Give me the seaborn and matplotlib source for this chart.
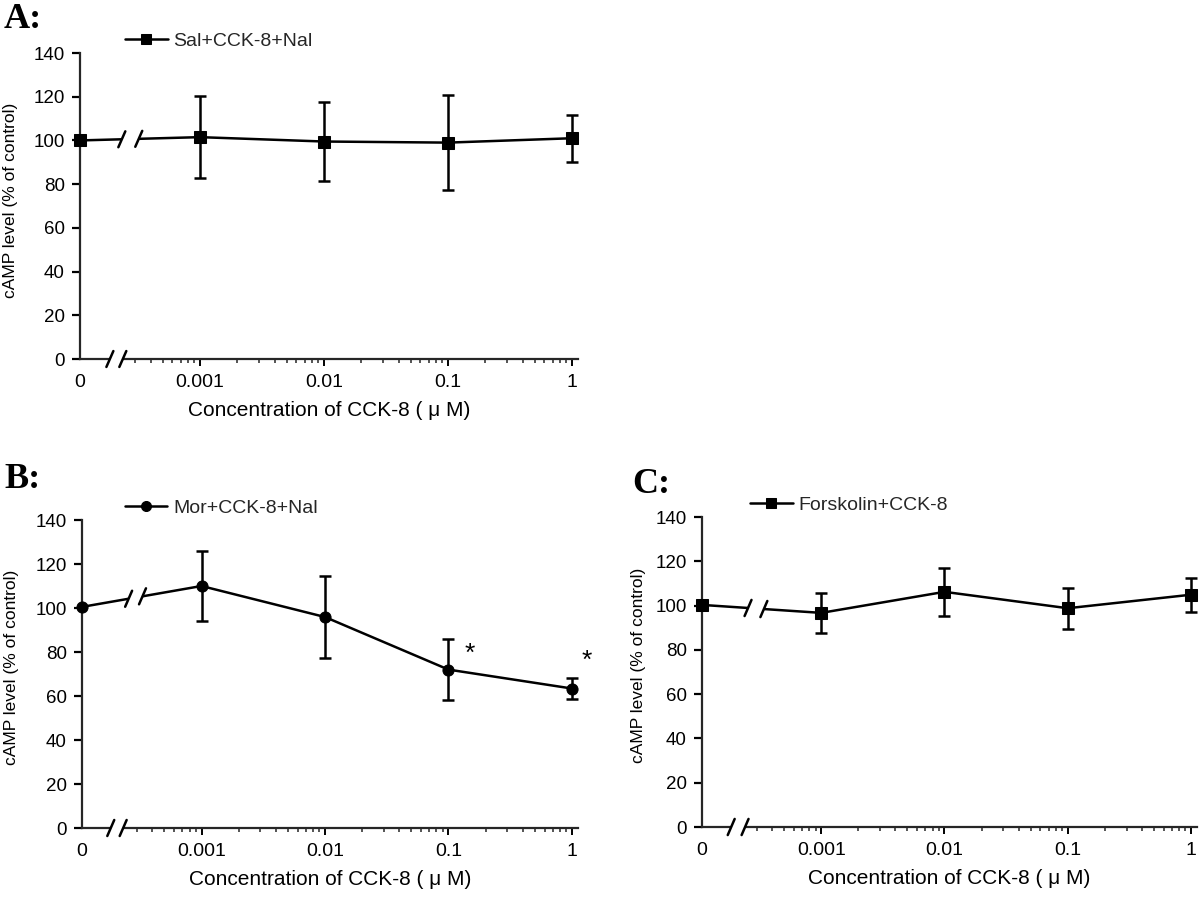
import numpy as np
import pandas as pd
import matplotlib
matplotlib.use("Agg")
import matplotlib.pyplot as plt
import seaborn as sns
from matplotlib.ticker import FixedLocator, FixedFormatter, NullFormatter
from matplotlib.patches import Rectangle

# ---------------- data ----------------
conc = [0, 0.001, 0.01, 0.1, 1]
conc_labels = ["0", "0.001", "0.01", "0.1", "1"]

a_mean = [100.0, 101.5, 99.5, 99.0, 101.0]
a_err = [0.0, 18.8, 18.2, 21.7, 10.8]
b_mean = [100.5, 110.0, 95.9, 72.0, 63.4]
b_err = [0.0, 16.0, 18.7, 14.0, 4.8]
c_mean = [100.3, 96.7, 106.2, 98.8, 104.9]
c_err = [0.0, 9.1, 10.8, 9.2, 7.7]

a_label = "Sal+CCK-8+Nal"
b_label = "Mor+CCK-8+Nal"
c_label = "Forskolin+CCK-8"

b_star_x = [0.15, 1.32]
b_star_y = [79, 76]

y_ticks = [0, 20, 40, 60, 80, 100, 120, 140]
minor_x = [k * 10.0 ** d for d in (-4, -3, -2, -1) for k in range(2, 10) if k * 10.0 ** d >= 0.0003]

x_title = "Concentration of CCK-8 ( \u03bc M)"
y_title = "cAMP level (% of control)"

# ---------------- style ----------------
sns.set_style("ticks")
plt.rcParams["font.family"] = ["Liberation Sans", "DejaVu Sans"]
plt.rcParams["axes.linewidth"] = 1.6

X0 = -3.968  # position of the "0" dose on the broken log axis


def fwd(x):
    x = np.asarray(x, dtype=float)
    safe = np.where(x > 0, x, 1.0)
    return np.where(x > 0, np.log10(safe), X0)


def inv(y):
    y = np.asarray(y, dtype=float)
    return np.where(y > X0 + 1e-9, 10.0 ** y, 0.0)


fig = plt.figure(figsize=(12, 8.97), dpi=100)

panels = [
    dict(rect=[80 / 1200, 1 - 359 / 897, 498 / 1200, 306 / 897], mean=a_mean, err=a_err,
         label=a_label, marker="s", leg_x=0.09, axbrk=(0.060, 0.086), databrk=(0.084, 0.118),
         ylab_x=-0.124),
    dict(rect=[82 / 1200, 1 - 828 / 897, 496 / 1200, 308 / 897], mean=b_mean, err=b_err,
         label=b_label, marker="o", leg_x=0.086, axbrk=(0.058, 0.083), databrk=(0.094, 0.122),
         ylab_x=-0.128),
    dict(rect=[702 / 1200, 1 - 827 / 897, 495 / 1200, 310 / 897], mean=c_mean, err=c_err,
         label=c_label, marker="s", leg_x=0.097, axbrk=(0.059, 0.087), databrk=(0.093, 0.125),
         ylab_x=-0.113),
]

axes = []
for p in panels:
    ax = fig.add_axes(p["rect"])
    df = pd.DataFrame({"conc": conc, "val": p["mean"]})
    sns.lineplot(data=df, x="conc", y="val", ax=ax, color="black", linewidth=1.8,
                 marker=p["marker"], markersize=8, markeredgecolor="black",
                 markerfacecolor="black", estimator=None, errorbar=None,
                 label=p["label"], zorder=3)
    m = np.array(p["err"]) > 0
    ax.errorbar(np.array(conc)[m], np.array(p["mean"])[m], yerr=np.array(p["err"])[m],
                fmt="none", ecolor="black", elinewidth=1.8, capsize=4, capthick=1.8, zorder=3)
    for ln in ax.lines:
        ln.set_clip_on(False)
    for coll in ax.collections:
        coll.set_clip_on(False)

    ax.set_xscale("function", functions=(fwd, inv))
    ax.set_xlim(0, 1.12)
    ax.set_ylim(0, 140)
    ax.xaxis.set_major_locator(FixedLocator(conc))
    ax.xaxis.set_major_formatter(FixedFormatter(conc_labels))
    ax.xaxis.set_minor_locator(FixedLocator(minor_x))
    ax.xaxis.set_minor_formatter(NullFormatter())
    ax.yaxis.set_major_locator(FixedLocator(y_ticks))
    ax.set_yticklabels([str(v) for v in y_ticks])
    sns.despine(ax=ax)

    ax.tick_params(axis="y", direction="out", length=6, width=1.6, labelsize=13.5, pad=5,
                   colors="black")
    ax.tick_params(axis="x", which="major", direction="out", length=5, width=1.4,
                   labelsize=14, pad=6, colors="black")
    ax.tick_params(axis="x", which="minor", direction="out", length=3.2, width=1.1)
    ax.xaxis.get_major_ticks()[0].tick1line.set_visible(False)

    ax.set_xlabel(x_title, fontsize=15, labelpad=7, color="black")
    ax.set_ylabel(y_title, fontsize=12.5, color="black")
    ax.yaxis.set_label_coords(p["ylab_x"], 0.52)

    ax.legend(loc="lower left", bbox_to_anchor=(p["leg_x"], 1.01), frameon=False,
              fontsize=14, handlelength=2.2, handletextpad=0.3, borderpad=0,
              borderaxespad=0, markerscale=0.9)

    # ---- axis break on the x axis ----
    s1, s2 = p["axbrk"]
    ax.add_patch(Rectangle((s1, -0.02), s2 - s1, 0.04, transform=ax.transAxes,
                           facecolor="white", edgecolor="none", clip_on=False, zorder=5))
    dx, dy = 0.007, 0.026
    for s in (s1, s2):
        ax.plot([s - dx, s + dx], [-dy, dy], transform=ax.transAxes, color="black",
                lw=1.8, clip_on=False, zorder=6)

    # ---- break on the data line between 0 and 0.001 ----
    fig.canvas.draw()
    trans = ax.transData + ax.transAxes.inverted()
    q0 = trans.transform((conc[0], p["mean"][0]))
    q1 = trans.transform((conc[1], p["mean"][1]))
    g1, g2 = p["databrk"]
    yg = np.interp([g1, g2], [q0[0], q1[0]], [q0[1], q1[1]])
    ax.add_patch(Rectangle((g1, min(yg) - 0.015), g2 - g1, abs(yg[1] - yg[0]) + 0.03,
                           transform=ax.transAxes, facecolor="white", edgecolor="none",
                           zorder=5))
    for g, yy in zip((g1, g2), yg):
        ax.plot([g - dx, g + dx], [yy - dy, yy + dy], transform=ax.transAxes,
                color="black", lw=1.8, zorder=6)
    axes.append(ax)

# significance stars in panel B
for sx, sy in zip(b_star_x, b_star_y):
    axes[1].text(sx, sy, "*", ha="center", va="center", fontsize=19, color="black")

# panel letters
for txt, x, y in (("A:", 4, 3), ("B:", 4, 463), ("C:", 632, 468)):
    fig.text(x / 1200, 1 - y / 897, txt, ha="left", va="top", fontsize=26,
             fontweight="bold", family="Liberation Serif", color="black")

fig.savefig("out.png", dpi=100)
